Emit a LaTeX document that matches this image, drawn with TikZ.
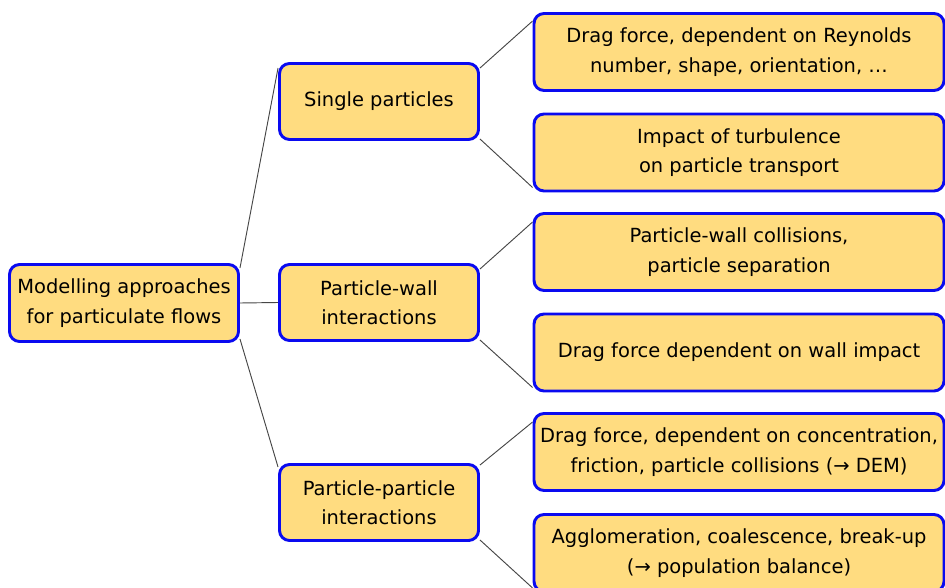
\documentclass[tikz,border=0pt]{standalone}
\usepackage{fontspec}
\setmainfont{DejaVu Sans}
\usetikzlibrary{calc,backgrounds}
\definecolor{boxfill}{RGB}{255,220,128}
\definecolor{boxline}{RGB}{10,10,240}
\definecolor{conn}{RGB}{70,70,70}
\tikzset{
  box/.style={draw=boxline, line width=2.2pt, fill=boxfill, rounded corners=7.5pt,
    align=center, inner sep=0pt, font=\fontsize{14.6}{22}\selectfont, text=black},
  rootbox/.style={box, minimum width=171.75pt, minimum height=57.75pt},
  midbox/.style={box, minimum width=149.25pt, minimum height=57pt},
  rightbox/.style={box, minimum width=307.5pt, minimum height=57.75pt},
  conline/.style={draw=conn, line width=0.7pt}
}
\begin{document}
\begin{tikzpicture}[x=0.75pt,y=-0.75pt]
\useasboundingbox (0,0) rectangle (945,588);
\node[rootbox] (root) at (124,303) {Modelling approaches\\for particulate flows};
\node[midbox] (single) at (379,101.5) {Single particles};
\node[midbox] (wall) at (379,302.5) {Particle-wall\\interactions};
\node[midbox] (pp) at (379,502.5) {Particle-particle\\interactions};
\node[rightbox] (r1) at (739,52) {Drag force, dependent on Reynolds\\number, shape, orientation, …};
\node[rightbox] (r2) at (739,152.5) {Impact of turbulence\\on particle transport};
\node[rightbox] (r3) at (739,252) {Particle-wall collisions,\\particle separation};
\node[rightbox] (r4) at (739,352.5) {Drag force dependent on wall impact};
\node[rightbox] (r5) at (739,452) {Drag force, dependent on concentration,\\friction, particle collisions (→ DEM)};
\node[rightbox] (r6) at (739,553) {Agglomeration, coalescence, break-up\\(→ population balance)};
\begin{scope}[on background layer]
\draw[conline] ($(root.north east)+(0,5)$) -- ($(single.north west)+(0,6)$);
\draw[conline] (root.east) -- (wall.west);
\draw[conline] ($(root.south east)+(0,-4)$) -- ($(pp.north west)+(0,4)$);
\draw[conline] ($(single.north east)+(0,6)$) -- ($(r1.north west)+(0,9)$);
\draw[conline] ($(single.south east)+(0,-2)$) -- ($(r2.south west)+(0,-5)$);
\draw[conline] ($(wall.north east)+(0,6)$) -- ($(r3.north west)+(0,10)$);
\draw[conline] ($(wall.south east)+(0,-2)$) -- ($(r4.south west)+(0,-5)$);
\draw[conline] ($(pp.north east)+(0,2)$) -- ($(r5.north west)+(0,10)$);
\draw[conline] ($(pp.south east)+(0,-2)$) -- ($(r6.south west)+(0,-5)$);
\end{scope}
\end{tikzpicture}
\end{document}
